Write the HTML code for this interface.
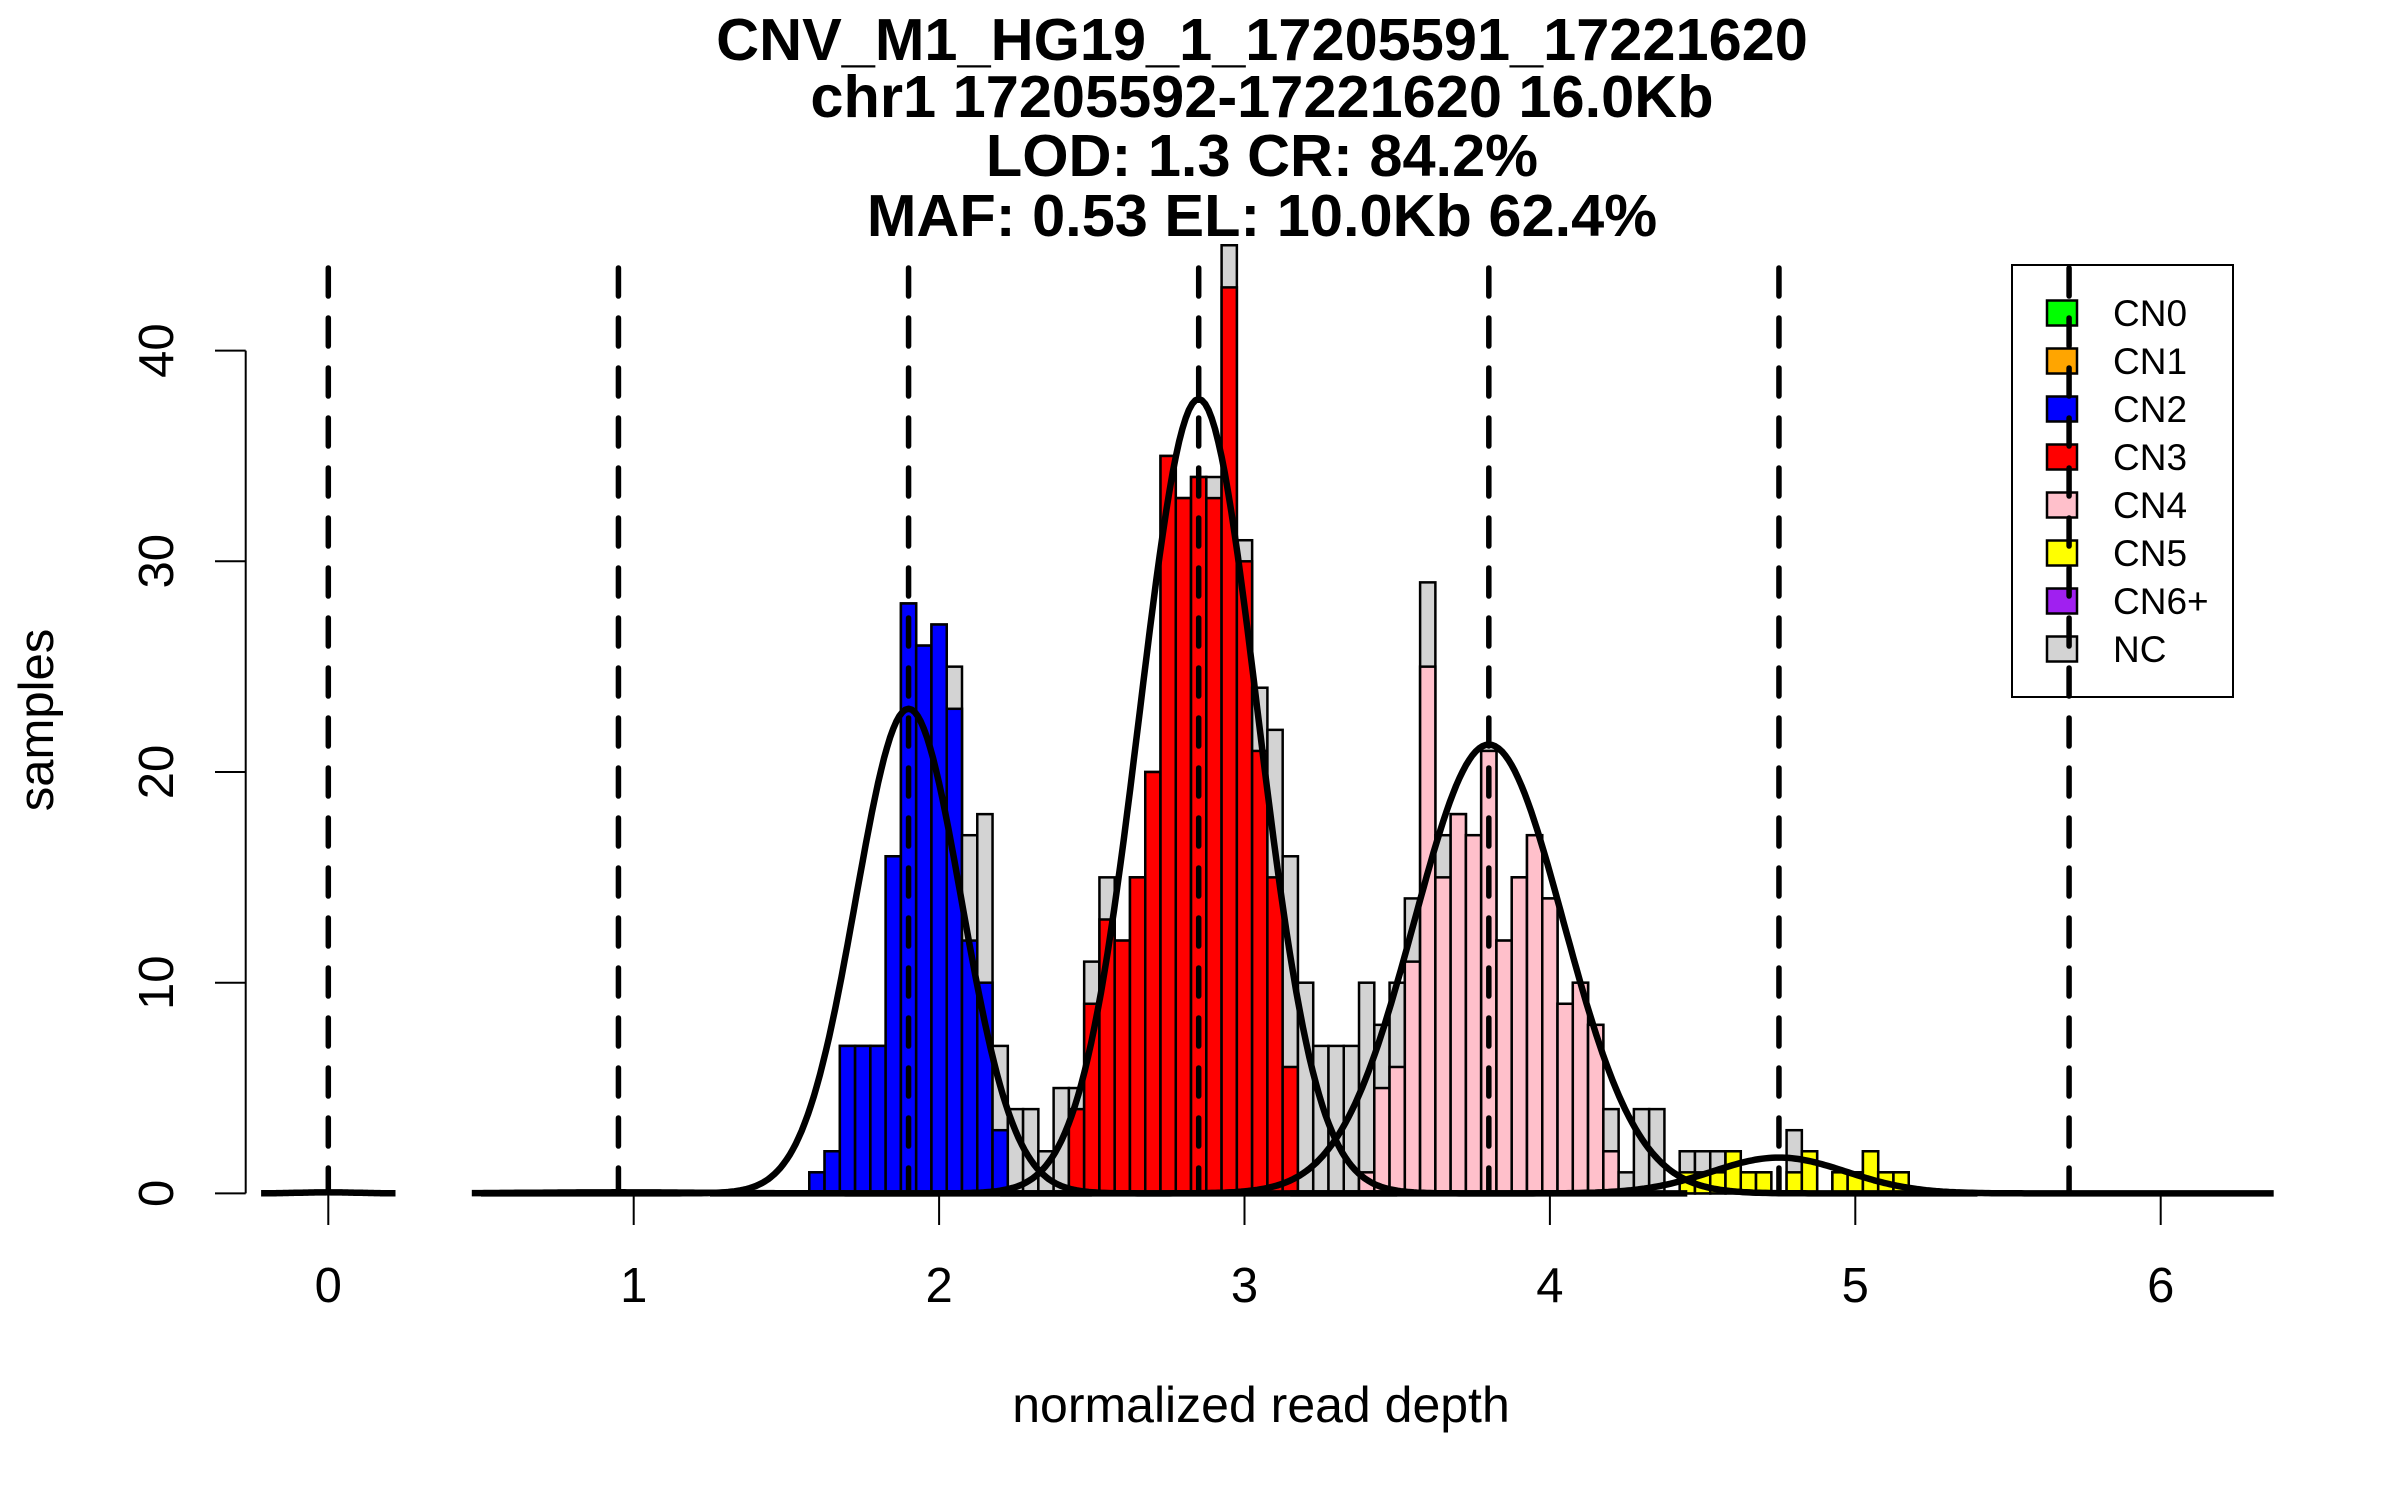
<!DOCTYPE html>
<html><head><meta charset="utf-8"><style>
body{margin:0;background:#fff}
svg{display:block;font-family:"Liberation Sans",sans-serif}
</style></head><body>
<svg id="chart" width="2400" height="1500" viewBox="0 0 2400 1500" xmlns="http://www.w3.org/2000/svg">
<rect x="0" y="0" width="2400" height="1500" fill="#fff"/>
<g font-weight="bold" font-size="59.5" text-anchor="middle" fill="#000">
<text x="1262" y="60">CNV_M1_HG19_1_17205591_17221620</text>
<text x="1262" y="117">chr1 17205592-17221620 16.0Kb</text>
<text x="1262" y="176">LOD: 1.3 CR: 84.2%</text>
<text x="1262" y="236">MAF: 0.53 EL: 10.0Kb 62.4%</text>
</g>
<g id="bars"></g>
<g id="curves"></g>
<g id="axes"></g>
<g id="legend"></g>
<g id="dashes"></g>
<text x="1261" y="1422" font-size="50" text-anchor="middle">normalized read depth</text>
<text x="0" y="0" font-size="49" text-anchor="middle" transform="translate(53,720) rotate(-90)">samples</text>
</svg>
<script>
const binStart = 1.575;
const binWidth = 0.05;
const totals = [1,2,7,7,7,16,28,26,27,25,17,18,7,4,4,2,5,5,11,15,12,15,20,35,33,34,34,45,31,24,22,16,10,7,7,7,10,8,10,14,29,17,18,17,21,12,15,17,14,9,10,8,4,1,4,4,0,2,2,2,2,1,1,0,3,2,0,1,1,2,1,1];
const colored = [1,2,7,7,7,16,28,26,27,23,12,10,3,0,0,0,0,4,9,13,12,15,20,35,33,34,33,43,30,21,15,6,0,0,0,0,1,5,6,11,25,15,18,17,21,12,15,17,14,9,10,8,2,0,0,0,0,1,1,1,2,1,1,0,1,2,0,1,1,2,1,1];
const binClass = [2,2,2,2,2,2,2,2,2,2,2,2,2,2,2,2,2,3,3,3,3,3,3,3,3,3,3,3,3,3,3,3,3,3,3,3,4,4,4,4,4,4,4,4,4,4,4,4,4,4,4,4,4,4,4,4,4,5,5,5,5,5,5,5,5,5,5,5,5,5,5,5];
const classNames = ["CN0","CN1","CN2","CN3","CN4","CN5","CN6+","NC"];
const classColors = ["#00ff00","#ffa500","#0000ff","#ff0000","#ffc0cb","#ffff00","#a020f0","#d3d3d3"];
const curveMeans = [0,0.95,1.9,2.85,3.8,4.75];
const curvePeaks = [0.05,0.05,23,37.7,21.3,1.7];
const curveSds = [0.1,0.3,0.173,0.193,0.244,0.22];
const curveLo = [-0.22,0.47,0.5,1.25,2.2,3.15];
const curveHi = [0.22,2.5,3.5,4.45,5.4,6.37];
const xTicks = [0,1,2,3,4,5,6];
const yTicks = [0,10,20,30,40];
const cnLines = [0,0.95,1.9,2.85,3.8,4.75,5.7];

const NS="http://www.w3.org/2000/svg";
const X0=328.3, XU=305.4, Y0=1193.4, YU=21.07;
const sx=v=>X0+v*XU, sy=v=>Y0-v*YU;
function mk(tag,attrs,parent){const e=document.createElementNS(NS,tag);for(const k in attrs)e.setAttribute(k,attrs[k]);parent.appendChild(e);return e;}

const bars=document.getElementById('bars');
totals.forEach((t,i)=>{
  const x1=sx(binStart+i*binWidth), x2=sx(binStart+(i+1)*binWidth);
  if(t>0){
    const r=mk('rect',{x:x1,y:sy(t),width:x2-x1,height:sy(0)-sy(t),fill:classColors[7],stroke:'#000','stroke-width':2.5},bars);
    
    
  }
  const c=colored[i];
  if(c>0){
    const r=mk('rect',{x:x1,y:sy(c),width:x2-x1,height:sy(0)-sy(c),fill:classColors[binClass[i]],stroke:'#000','stroke-width':2.5},bars);
    
    
  }
});

const curves=document.getElementById('curves');
curveMeans.forEach((m,k)=>{
  let d='';
  const n=300;
  for(let j=0;j<=n;j++){
    const v=curveLo[k]+(curveHi[k]-curveLo[k])*j/n;
    const y=curvePeaks[k]*Math.exp(-0.5*Math.pow((v-m)/curveSds[k],2));
    d+=(j?'L':'M')+sx(v).toFixed(1)+','+sy(y).toFixed(1);
  }
  const p=mk('path',{d:d,fill:'none',stroke:'#000','stroke-width':6.5,'stroke-linejoin':'round'},curves);
  
  
});

const axes=document.getElementById('axes');
const yl=mk('line',{x1:245.7,y1:sy(40),x2:245.7,y2:sy(0),stroke:'#000','stroke-width':2},axes);


yTicks.forEach(t=>{
  const l=mk('line',{x1:215,y1:sy(t),x2:245.7,y2:sy(t),stroke:'#000','stroke-width':2},axes);
  
  
  const tx=mk('text',{x:0,y:0,'font-size':49,'text-anchor':'middle',transform:`translate(173,${sy(t)}) rotate(-90)`},axes);
  tx.textContent=t;
  
  
});
xTicks.forEach(t=>{
  const l=mk('line',{x1:sx(t),y1:1193,x2:sx(t),y2:1225,stroke:'#000','stroke-width':2},axes);
  
  
  const tx=mk('text',{x:sx(t),y:1302,'font-size':49,'text-anchor':'middle'},axes);
  tx.textContent=t;
  
  
});

const lg=document.getElementById('legend');
const box=mk('rect',{x:2012,y:265,width:221,height:432,fill:'none',stroke:'#000','stroke-width':2},lg);


classNames.forEach((n,i)=>{
  const cy=313+i*48;
  const r=mk('rect',{x:2047,y:cy-12.5,width:30,height:25,fill:classColors[i],stroke:'#000','stroke-width':2.5},lg);
  
  
  const t=mk('text',{x:2113,y:cy+13,'font-size':37},lg);
  t.textContent=n;
  
  
});

const dg=document.getElementById('dashes');
cnLines.forEach(v=>{
  const l=mk('line',{x1:sx(v),y1:268,x2:sx(v),y2:1193,stroke:'#000','stroke-width':5.5,'stroke-dasharray':'28 22','stroke-linecap':'round'},dg);
  
  
});
</script>
</body></html>
